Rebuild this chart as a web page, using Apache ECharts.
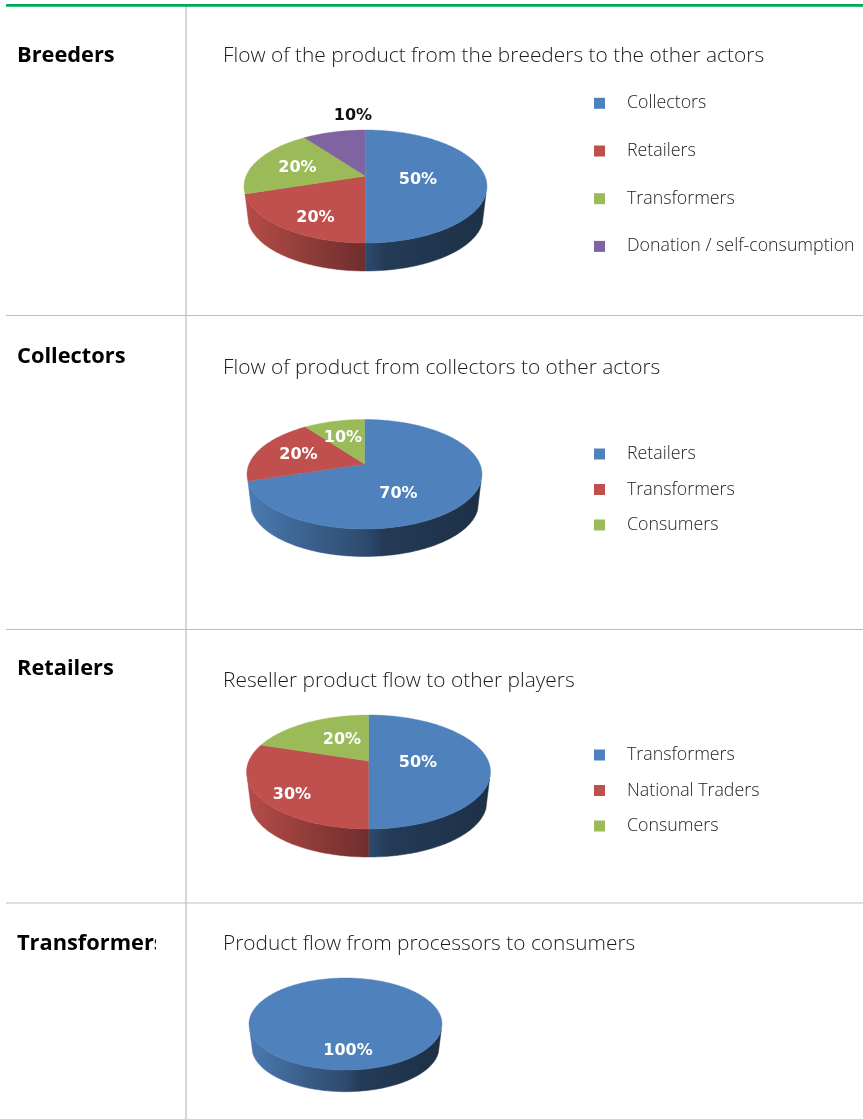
<!DOCTYPE html>
<html><head><meta charset="utf-8">
<style>html,body{margin:0;padding:0;background:#fff}#c{width:863px;height:1119px}</style>
<script src="https://cdn.jsdelivr.net/npm/echarts@6/dist/echarts.min.js"></script>
</head><body><div id="c"></div>
<script>
// ---- data ----
const rowNames = ['Breeders','Collectors','Retailers','Transformers'];
const chartTitles = [
  'Flow of the product from the breeders to the other actors',
  'Flow of product from collectors to other actors',
  'Reseller product flow to other players',
  'Product flow from processors to consumers'
];
const breedersNames = ['Collectors','Retailers','Transformers','Donation / self-consumption'];
const breedersValues = [50,20,20,10];
const collectorsNames = ['Retailers','Transformers','Consumers'];
const collectorsValues = [70,20,10];
const retailersNames = ['Transformers','National Traders','Consumers'];
const retailersValues = [50,30,20];
const transformersNames = ['Consumers'];
const transformersValues = [100];
const palette = ['#4F81BD','#C0504D','#9BBB59','#8064A2'];

// ---- layout & style ----
const FONT_BODY = '"Open Sans"', FONT_LABEL = '"DejaVu Sans"';
const rowTextY = [56,357,669,944];
const titleY = [56.5,368.5,681.5,944.5];
const pies = [
 {names:breedersNames,values:breedersValues,cx:365.5,apex:176,rx:121.5,up:46,down:67,depth:28,
  labels:[[418,180],[315.5,218],[297.5,168],[353,116]],labelColors:['#fff','#fff','#fff','#111'],
  legendY:103.3,legendStep:47.7,legend:true},
 {names:collectorsNames,values:collectorsValues,cx:364.5,apex:464,rx:117.5,up:44.5,down:65,depth:27.5,
  labels:[[398.5,494],[298.5,455],[343,438]],labelColors:['#fff','#fff','#fff'],
  legendY:454,legendStep:35.5,legend:true},
 {names:retailersNames,values:retailersValues,cx:368.5,apex:761,rx:122,up:46,down:68,depth:28,
  labels:[[418,763],[292,795],[342,740]],labelColors:['#fff','#fff','#fff'],
  legendY:755,legendStep:35.5,legend:true},
 {names:transformersNames,values:transformersValues,cx:345.5,apex:1015,rx:96.5,up:37,down:55,depth:21.7,
  labels:[[348,1051]],labelColors:['#fff'],legend:false}
];
const BOTTOM_SCALE = 0.97;
const WALL_HALF_ANGLE = 71.9 * Math.PI / 180; // rim visible either side of the front

function hex(c){return [1,3,5].map(i=>parseInt(c.substr(i,2),16));}
function shade(c,f){return 'rgb('+hex(c).map(x=>Math.round(x*f)).join(',')+')';}

// perspective projection of the pie's circular top and bottom faces
function projector(p){
  const k=(p.up-p.down)/(p.up+p.down), A=p.down*(1+k), B=p.rx*Math.sqrt(1-k*k);
  const top=a=>{const u=Math.sin(a),v=-Math.cos(a),w=1+k*v;return [p.cx+B*u/w,p.apex+A*v/w];};
  const dY=p.depth+p.down*(1-BOTTOM_SCALE);
  const bot=a=>{const q=top(a);return [p.cx+(q[0]-p.cx)*BOTTOM_SCALE,p.apex+(q[1]-p.apex)*BOTTOM_SCALE+dY];};
  return {top,bot,fLo:Math.PI-WALL_HALF_ANGLE,fHi:Math.PI+WALL_HALF_ANGLE};
}
function arc(fn,a0,a1){const n=Math.max(2,Math.ceil(Math.abs(a1-a0)/0.02));const r=[];for(let i=0;i<=n;i++)r.push(fn(a0+(a1-a0)*i/n));return r;}

function sliceRender(pie,color,full){
  const P=projector(pie);
  return function(params,api){
    const a0=api.value(0)*2*Math.PI, a1=api.value(1)*2*Math.PI;
    const children=[];
    const lo=Math.max(a0,P.fLo), hi=Math.min(a1,P.fHi);
    if(hi>lo){
      const pts=arc(P.top,lo,hi).concat(arc(P.bot,hi,lo));
      const grad={type:'linear',global:true,x:pie.cx-pie.rx,y:0,x2:pie.cx+pie.rx,y2:0,colorStops:[
          {offset:0,color:shade(color,0.95)},{offset:0.3,color:shade(color,0.72)},
          {offset:0.5,color:shade(color,0.58)},{offset:0.58,color:shade(color,0.46)},{offset:1,color:shade(color,0.37)}]};
      children.push({type:'polygon',shape:{points:pts},style:{fill:grad,stroke:grad,lineWidth:0.5}});
    }
    const pts=full?arc(P.top,0,2*Math.PI):[[pie.cx,pie.apex]].concat(arc(P.top,a0,a1));
    children.push({type:'polygon',z2:2,shape:{points:pts},style:{fill:color,stroke:color,lineWidth:0.4}});
    return {type:'group',children};
  };
}

const series=[];
pies.forEach(pie=>{
  const total=pie.values.reduce((a,b)=>a+b,0);
  let cum=0;
  pie.values.forEach((val,i)=>{
    const start=cum/total; cum+=val; const end=cum/total;
    series.push({type:'custom',name:pie.names[i],coordinateSystem:'none',silent:true,animation:false,
      data:[[start,end,val]],renderItem:sliceRender(pie,palette[i],val===total)});
  });
});

// percentage labels
const labelData=[];
pies.forEach(pie=>{const total=pie.values.reduce((a,b)=>a+b,0);
  pie.values.forEach((v,i)=>labelData.push({value:[Math.round(v/total*100)],spot:pie.labels[i],col:pie.labelColors[i]}));});
series.push({type:'custom',coordinateSystem:'none',silent:true,animation:false,z:5,data:labelData.map(d=>d.value),
  renderItem:function(params,api){const d=labelData[params.dataIndex];
    return {type:'text',x:d.spot[0],y:d.spot[1],style:{text:api.value(0)+'%',fill:d.col,font:'bold 16px '+FONT_LABEL,align:'center',verticalAlign:'middle'}};}});
// row headers, clipped by their cell
series.push({type:'custom',coordinateSystem:'none',silent:true,animation:false,z:5,data:rowNames.map((n,i)=>[i]),
  renderItem:function(params,api){const i=api.value(0);
    return {type:'text',x:17,y:rowTextY[i],
      style:{text:rowNames[i],fill:'#000',font:'bold 21.8px '+FONT_BODY,align:'left',verticalAlign:'middle'},
      clipPath:{type:'rect',shape:{x:0,y:-20,width:139,height:40}}};}});

const legends=pies.filter(p=>p.legend).map(p=>({
  left:594,top:p.legendY-10,orient:'vertical',itemWidth:11,itemHeight:11,itemGap:p.legendStep-20,selectedMode:false,padding:0,
  icon:'rect',
  textStyle:{fontFamily:FONT_BODY,fontSize:17.8,fontWeight:300,color:'#222',lineHeight:20,padding:[0,0,0,17]},
  data:p.names.map((n,i)=>({name:n,icon:'rect',itemStyle:{color:palette[i]}}))
}));
const titles=chartTitles.map((t,i)=>({text:t,left:223,top:titleY[i]-14,padding:0,
  textStyle:{fontFamily:FONT_BODY,fontSize:20.9,fontWeight:300,color:'#1a1a1a',lineHeight:28}}));

const ruleGrey='#BDBDBD';
const line=(x1,y1,x2,y2,c,w)=>({type:'line',shape:{x1,y1,x2,y2},style:{stroke:c,lineWidth:w},silent:true});
const graphic=[
  line(186,5,186,1119,'#CFCFCF',1.7),
  line(6,315.5,863,315.5,ruleGrey,1.2),line(6,629.5,863,629.5,ruleGrey,1.2),line(6,903,863,903,ruleGrey,1.2),
  line(6,5.3,863,5.3,'#00A859',2.7)
];
const chart=echarts.init(document.getElementById('c'),null,{renderer:'canvas'});
chart.setOption({animation:false,backgroundColor:'#fff',title:titles,legend:legends,series,graphic});
</script></body></html>
